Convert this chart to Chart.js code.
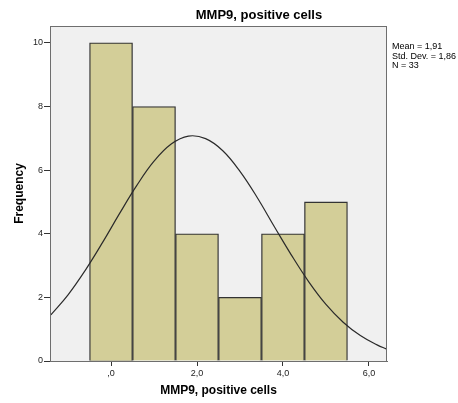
<!DOCTYPE html>
<html lang="en">
<head>
<meta charset="UTF-8">
<title>MMP9, positive cells</title>
<script src="https://cdn.jsdelivr.net/npm/chart.js@4/dist/chart.umd.min.js"></script>
<style>
  body { margin: 0; background: #fff; }
  .wrap { width: 458px; height: 403px; }
</style>
</head>
<body>
<div class="wrap"><canvas id="histo" width="458" height="403"></canvas></div>
<script>
// histogram bins (bin width 1)
const binCenters = [0, 1, 2, 3, 4, 5];
const binCounts = [10, 8, 4, 2, 4, 5];

// fitted normal curve
const curveX = [-1.4, -1.0, -0.6, -0.2, 0.2, 0.6, 1.0, 1.4, 1.8, 2.2, 2.6, 3.0, 3.4, 3.8, 4.2, 4.6, 5.0, 5.4, 5.8, 6.2, 6.4];
const curveY = [1.45, 2.08, 2.85, 3.72, 4.64, 5.52, 6.28, 6.82, 7.07, 6.99, 6.61, 5.96, 5.14, 4.22, 3.32, 2.49, 1.78, 1.22, 0.80, 0.50, 0.38];

const statLines = ['Mean = 1,91', 'Std. Dev. = 1,86', 'N = 33'];
const xTicks = [0, 2, 4, 6];

const fontName = "'Liberation Sans', Arial, sans-serif";

const decorations = {
    id: 'decorations',
    beforeDraw(chart) {
        const a = chart.chartArea, ctx = chart.ctx;
        ctx.save();
        ctx.fillStyle = '#f0f0f0';
        ctx.fillRect(a.left, a.top, a.right - a.left, a.bottom - a.top);
        ctx.restore();
    },
    afterDraw(chart) {
        const a = chart.chartArea, ctx = chart.ctx;
        ctx.save();
        ctx.strokeStyle = '#6e6e6e';
        ctx.lineWidth = 1;
        ctx.strokeRect(a.left + 0.5, a.top + 0.5, a.right - a.left - 1, a.bottom - a.top);
        ctx.fillStyle = '#000';
        ctx.font = 'bold 13px ' + fontName;
        ctx.textAlign = 'center';
        ctx.textBaseline = 'middle';
        ctx.fillText('MMP9, positive cells', 259, 15);
        ctx.font = 'bold 12px ' + fontName;
        ctx.fillText('MMP9, positive cells', (a.left + a.right) / 2, 391);
        ctx.save();
        ctx.translate(20, (a.top + a.bottom) / 2);
        ctx.rotate(-Math.PI / 2);
        ctx.fillText('Frequency', 0, 0);
        ctx.restore();
        ctx.font = '9px ' + fontName;
        ctx.textAlign = 'left';
        statLines.forEach((t, i) => ctx.fillText(t, 392, 47 + i * 9.5));
        ctx.restore();
    }
};

new Chart(document.getElementById('histo'), {
    type: 'bar',
    data: {
        datasets: [
            {
                type: 'line',
                data: curveX.map((x, i) => ({ x: x, y: curveY[i] })),
                borderColor: '#2a2a2a',
                borderWidth: 1.2,
                pointRadius: 0,
                tension: 0.4,
                fill: false,
                order: 0
            },
            {
                type: 'bar',
                data: binCenters.map((x, i) => ({ x: x, y: binCounts[i] })),
                backgroundColor: '#d3ce98',
                borderColor: '#333333',
                borderWidth: 1.3,
                borderSkipped: 'bottom',
                barPercentage: 1,
                categoryPercentage: 1,
                order: 1
            }
        ]
    },
    options: {
        responsive: false,
        animation: false,
        layout: { padding: { left: 0, top: 26, right: 71, bottom: 0 } },
        plugins: { legend: { display: false }, tooltip: { enabled: false } },
        scales: {
            x: {
                type: 'linear',
                offset: false,
                min: -1.42,
                max: 6.42,
                afterFit(s) { s.height = 42; },
                afterBuildTicks(s) { s.ticks = xTicks.map(v => ({ value: v })); },
                grid: { offset: false, drawOnChartArea: false, drawTicks: true, tickLength: 5, color: '#333' },
                border: { color: '#6e6e6e' },
                ticks: {
                    padding: 2,
                    color: '#222',
                    font: { size: 9, family: fontName },
                    callback: v => v === 0 ? ',0' : v.toFixed(1).replace('.', ',')
                }
            },
            y: {
                min: 0,
                max: 10.53,
                afterFit(s) { s.width = 50; },
                afterBuildTicks(s) { s.ticks = [0, 2, 4, 6, 8, 10].map(v => ({ value: v })); },
                grid: { drawOnChartArea: false, drawTicks: true, tickLength: 6, color: '#333' },
                border: { color: '#6e6e6e' },
                ticks: {
                    padding: 1,
                    color: '#222',
                    font: { size: 9, family: fontName }
                }
            }
        }
    },
    plugins: [decorations]
});
</script>
</body>
</html>
